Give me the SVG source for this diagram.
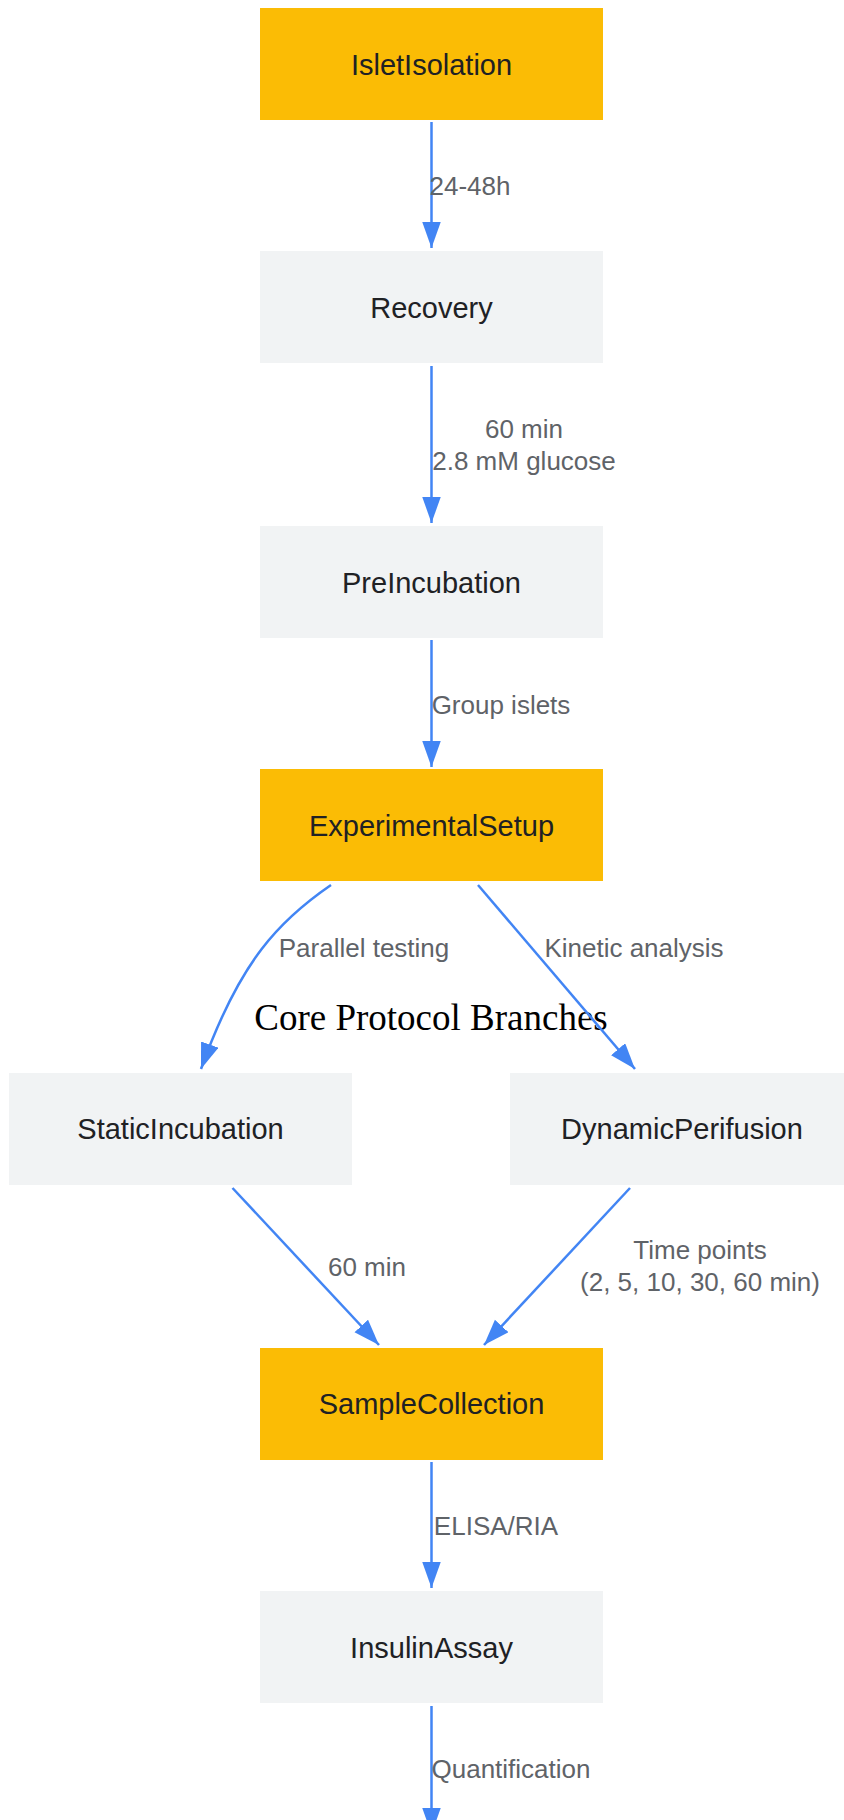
<svg xmlns="http://www.w3.org/2000/svg" width="844" height="1820" viewBox="0 0 844 1820">
<defs>
<style>
.orange{fill:#FBBC05}
.gray{fill:#F1F3F4}
.nt{font-family:"Liberation Sans",Arial,sans-serif;font-size:29px;fill:#202124;text-anchor:middle}
.lt{font-family:"Liberation Sans",Arial,sans-serif;font-size:26px;fill:#5F6368;text-anchor:middle}
.edge{fill:none;stroke:#4285F4;stroke-width:2.5}
.title{font-family:"Liberation Serif","Times New Roman",serif;font-size:37px;fill:#000;text-anchor:middle}
</style>
<marker id="arr" markerUnits="userSpaceOnUse" markerWidth="27" markerHeight="19" refX="26" refY="9.25" orient="auto" viewBox="0 0 27 19">
<path d="M0,0 L26,9.25 L0,18.5 z" fill="#4285F4"/>
</marker>
</defs>
<rect width="844" height="1820" fill="#FFFFFF"/>
<g id="IsletIsolation"><rect class="orange" x="260" y="8" width="343" height="112"/><text class="nt" x="431.5" y="75">IsletIsolation</text></g>
<g id="Recovery"><rect class="gray" x="260" y="251" width="343" height="112"/><text class="nt" x="431.5" y="318">Recovery</text></g>
<g id="PreIncubation"><rect class="gray" x="260" y="526" width="343" height="112"/><text class="nt" x="431.5" y="593">PreIncubation</text></g>
<g id="ExperimentalSetup"><rect class="orange" x="260" y="769" width="343" height="112"/><text class="nt" x="431.5" y="836">ExperimentalSetup</text></g>
<g id="StaticIncubation"><rect class="gray" x="9" y="1073" width="343" height="112"/><text class="nt" x="180.5" y="1139">StaticIncubation</text></g>
<g id="DynamicPerifusion"><rect class="gray" x="510" y="1073" width="343" height="112"/><text class="nt" x="682" y="1139">DynamicPerifusion</text></g>
<g id="SampleCollection"><rect class="orange" x="260" y="1348" width="343" height="112"/><text class="nt" x="431.5" y="1414">SampleCollection</text></g>
<g id="InsulinAssay"><rect class="gray" x="260" y="1591" width="343" height="112"/><text class="nt" x="431.5" y="1658">InsulinAssay</text></g>
<text class="title" x="431" y="1030">Core Protocol Branches</text>
<g id="connectors">
<path class="edge" marker-end="url(#arr)" d="M431.5,122 L431.5,248"/>
<path class="edge" marker-end="url(#arr)" d="M431.5,366 L431.5,523"/>
<path class="edge" marker-end="url(#arr)" d="M431.5,640 L431.5,767"/>
<path class="edge" marker-end="url(#arr)" d="M331,885 C280,920 240,960 201,1069"/>
<path class="edge" marker-end="url(#arr)" d="M478,885 L635,1069"/>
<path class="edge" marker-end="url(#arr)" d="M232.5,1188 L379,1345"/>
<path class="edge" marker-end="url(#arr)" d="M630,1188 L484,1345"/>
<path class="edge" marker-end="url(#arr)" d="M431.5,1462 L431.5,1588"/>
<path class="edge" marker-end="url(#arr)" d="M431.5,1706 L431.5,1834"/>
</g>
<g id="edge-labels">
<text class="lt" x="470" y="195">24-48h</text>
<text class="lt" x="524" y="438">60 min</text>
<text class="lt" x="524" y="470">2.8 mM glucose</text>
<text class="lt" x="501" y="714">Group islets</text>
<text class="lt" x="364" y="957">Parallel testing</text>
<text class="lt" x="634" y="957">Kinetic analysis</text>
<text class="lt" x="367" y="1276">60 min</text>
<text class="lt" x="700" y="1259">Time points</text>
<text class="lt" x="700" y="1291">(2, 5, 10, 30, 60 min)</text>
<text class="lt" x="496" y="1535">ELISA/RIA</text>
<text class="lt" x="511" y="1778">Quantification</text>
</g>
</svg>
